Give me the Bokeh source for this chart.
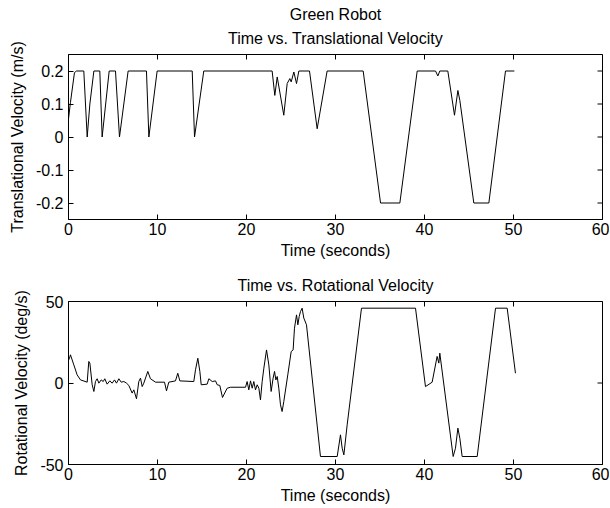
import math
from bokeh.plotting import figure
from bokeh.models import Range1d, FixedTicker, Title
from bokeh.layouts import column
from bokeh.embed import file_html
from bokeh.resources import INLINE

FONT = "Liberation Sans"
FS = "16px"

x_ticks = [0, 10, 20, 30, 40, 50, 60]
x_tick_labels = ["0", "10", "20", "30", "40", "50", "60"]
trans_ticks = [-0.2, -0.1, 0, 0.1, 0.2]
trans_tick_labels = ["-0.2", "-0.1", "0", "0.1", "0.2"]
rot_ticks = [-50, 0, 50]
rot_tick_labels = ["-50", "0", "50"]

time_trans = [0, 0.22, 0.67, 0.9, 1.72, 2.1, 2.4, 2.85, 3.52, 3.78, 4.57, 5.28, 5.73, 6.7,
              8.76, 9.03, 9.96, 13.9, 14.16, 15.2, 22.88, 23.18, 23.45, 24.19, 24.57, 24.87,
              25.02, 25.32, 25.62, 25.88, 27.08, 27.94, 29.06, 33.11, 35.06, 37.23, 39.18,
              41.24, 41.5, 41.72, 42.62, 43.37, 43.75, 43.97, 45.54, 47.23, 49.1, 50.1]
vel_trans = [0.055, 0.105, 0.195, 0.2, 0.2, 0.0, 0.1, 0.2, 0.2, 0.0, 0.2, 0.2, 0.0, 0.2,
             0.2, 0.0, 0.2, 0.2, 0.0, 0.2, 0.2, 0.126, 0.182, 0.066, 0.162, 0.177,
             0.167, 0.197, 0.162, 0.2, 0.2, 0.025, 0.2, 0.2, -0.2, -0.2, 0.2,
             0.2, 0.185, 0.2, 0.2, 0.066, 0.141, 0.111, -0.2, -0.2, 0.2, 0.2]

time_rot = [0, 0.11, 0.22, 0.6, 0.97, 1.35, 2.1, 2.28, 2.4, 2.66,
            2.85, 3.03, 3.22, 3.41, 3.67, 3.9, 4.08, 4.34, 4.64, 4.91,
            5.17, 5.39, 5.66, 5.92, 6.22, 6.52, 6.78, 7.15, 7.34, 7.64,
            7.9, 8.09, 8.28, 8.46, 8.91, 9.21, 9.78, 10.79, 11.01, 11.27,
            12.02, 12.28, 12.51, 14.08, 14.27, 14.53, 14.76, 14.91, 15.58, 15.77,
            16.15, 16.52, 16.71, 17.0, 17.3, 17.83, 18.2, 19.89, 20.07, 20.26,
            20.45, 20.64, 20.82, 21.01, 21.2, 21.39, 21.57, 21.76, 21.95, 22.25,
            22.51, 22.77, 22.99, 23.15, 23.3, 23.45, 23.63, 23.82, 24.0, 24.19,
            24.64, 25.02, 25.24, 25.39, 25.62, 25.77, 25.92, 26.07, 26.25, 26.44,
            26.74, 28.31, 30.19, 30.56, 30.75, 30.94, 31.31, 32.92, 38.99, 40.11,
            40.86, 41.42, 41.61, 41.72, 43.22, 43.48, 43.75, 43.97, 44.23, 45.92,
            47.98, 49.29, 50.22]
vel_rot = [14, 15.2, 17.3, 11.1, 5.0, 1.9, 0.5, 13.2, 12.2, -1.1,
           -5.2, 0.9, 2.6, -0.1, 1.9, 0.9, 2.6, -0.7, 1.3, -0.1,
           1.9, -0.1, 2.6, 0.5, 0.9, -0.1, -1.5, -6.2, -4.2, -9.7,
           0.9, 3.0, -2.2, -0.1, 7.1, 2.6, 0.5, 0.5, -4.8, 0.5,
           1.3, 6.0, 1.3, 0.9, 8.1, 15.2, 7.1, -1.1, -0.7, 2.6,
           0.9, 1.3, -1.1, -1.5, -8.9, -3.2, -2.6, -2.6, 0.9, -4.2,
           1.3, -3.2, 0.9, -4.2, -1.1, -3.2, -10.4, 0.9, 9.1, 20.3,
           11.1, -5.2, 3.0, 7.1, 1.9, 4.0, -3.2, -13.4, -17.5, -11.4,
           5.0, 19.3, 20.3, 33.6, 41.8, 35.7, 40.8, 43.9, 45.9, 39.8,
           35.7, -45.1, -45.1, -31.8, -40, -44.1, -25.7, 45.9, 45.9, -2.2,
           0.5, 16.3, 12.2, 18.3, -45.1, -40, -27.7, -33.9, -45.1, -45.1,
           45.9, 45.9, 6.0]


def style_axis(ax, ticks, labels):
    ax.ticker = FixedTicker(ticks=ticks)
    ax.major_tick_in = 5
    ax.major_tick_out = 0
    ax.minor_tick_line_color = None
    ax.axis_line_color = "black"
    ax.major_tick_line_color = "black"
    ax.major_label_overrides = dict(zip(ticks, labels))
    ax.major_label_text_font = FONT
    ax.major_label_text_font_size = FS
    ax.major_label_text_color = "black"
    ax.axis_label_text_font = FONT
    ax.axis_label_text_font_size = FS
    ax.axis_label_text_font_style = "normal"
    ax.axis_label_text_color = "black"


def make_fig(height, top, bottom, y_lo, y_hi, yticks, ylabels, ylabel, titles, xstand, xlabstand):
    p = figure(width=609, height=height, x_range=Range1d(0, 60), y_range=Range1d(y_lo, y_hi),
               output_backend="svg", toolbar_location=None, title=None,
               min_border_left=68, min_border_right=7,
               min_border_top=top, min_border_bottom=bottom)
    p.grid.visible = False
    p.border_fill_color = "white"
    p.outline_line_color = "black"
    xa = p.xaxis[0]
    style_axis(xa, x_ticks, x_tick_labels)
    xa.axis_label = "Time (seconds)"
    xa.major_label_standoff = xstand
    xa.axis_label_standoff = xlabstand
    ya = p.yaxis[0]
    style_axis(ya, yticks, ylabels)
    ya.axis_label = ylabel
    ya.major_label_standoff = 5
    ya.axis_label_standoff = 7
    # mirrored inward ticks on the top and right edges (outer half of each dash is clipped)
    p.scatter(x=x_ticks, y=[y_hi] * len(x_ticks), marker="dash", size=10, angle=math.pi / 2,
              line_color="black", line_width=1)
    p.scatter(x=[60] * len(yticks), y=yticks, marker="dash", size=10,
              line_color="black", line_width=1)
    for text, standoff in titles:
        p.add_layout(Title(text=text, align="center", text_font=FONT, text_font_size=FS,
                           text_font_style="normal", text_color="black", standoff=standoff),
                     "above")
    return p


p1 = make_fig(266, 54, 47, -0.25, 0.25, trans_ticks, trans_tick_labels,
              "Translational Velocity (m/s)",
              [("Time vs. Translational Velocity", 16), ("Green Robot", -6)], 3, 4)
p1.line(time_trans, vel_trans, line_color="black", line_width=1)

p2 = make_fig(242, 34, 44, -50, 50, rot_ticks, rot_tick_labels,
              "Rotational Velocity (deg/s)",
              [("Time vs. Rotational Velocity", 16)], 3, 4)
p2.line(time_rot, vel_rot, line_color="black", line_width=1)

layout = column(p1, p2, spacing=0)
open("out.html", "w").write(file_html(layout, INLINE))
